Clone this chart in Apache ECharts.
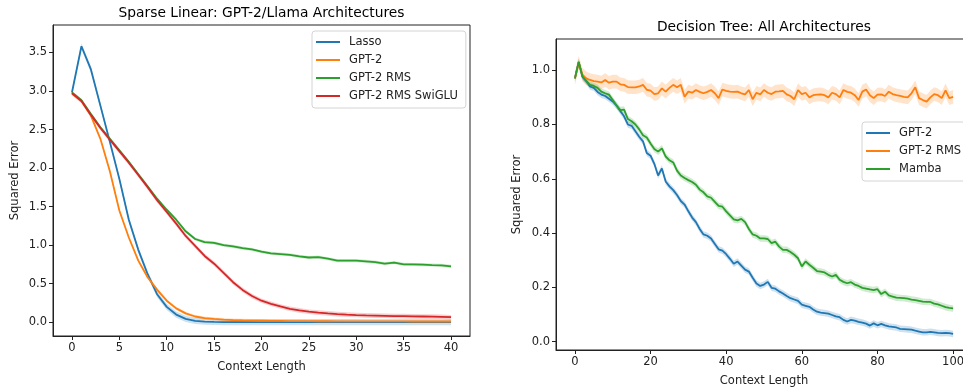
<!DOCTYPE html>
<html>
<head>
<meta charset="utf-8">
<script src="https://cdn.jsdelivr.net/npm/echarts@6/dist/echarts.min.js"></script>
<style>
  html, body { margin: 0; padding: 0; background: #fff; overflow: hidden; }
  #chart { width: 980px; height: 387px; }
</style>
</head>
<body>
<div id="chart"></div>
<script>
// ---- left panel: sparse linear, context length 0..40 ----
const lassoErr = [2.98, 3.58, 3.28, 2.81, 2.34, 1.86, 1.33, 0.94, 0.62, 0.36, 0.2, 0.1, 0.045, 0.018, 0.008, 0.004, 0.003, 0.002, 0.001, 0.001,
  0.001, 0.001, 0.001, 0.001, 0.001, 0.001, 0.001, 0.001, 0.001, 0.001, 0.001, 0.001, 0.001, 0.001, 0.001, 0.001, 0.001, 0.001, 0.001, 0.001, 0.001];
const gpt2Err = [2.97, 2.87, 2.68, 2.38, 1.96, 1.45, 1.1, 0.8, 0.58, 0.42, 0.28, 0.18, 0.115, 0.075, 0.055, 0.043, 0.035, 0.029, 0.025, 0.022,
  0.02, 0.018, 0.017, 0.016, 0.015, 0.014, 0.013, 0.013, 0.012, 0.012, 0.012, 0.011, 0.011, 0.011, 0.011, 0.011, 0.01, 0.01, 0.01, 0.01, 0.01];
const rmsErr = [2.98, 2.88, 2.7, 2.53, 2.38, 2.23, 2.08, 1.92, 1.76, 1.6, 1.46, 1.33, 1.18, 1.08, 1.04, 1.03, 1.0, 0.985, 0.962, 0.945,
  0.915, 0.895, 0.885, 0.875, 0.855, 0.84, 0.845, 0.825, 0.8, 0.8, 0.8, 0.79, 0.78, 0.76, 0.775, 0.752, 0.75, 0.748, 0.742, 0.738, 0.725];
const swigluErr = [2.97, 2.87, 2.69, 2.52, 2.37, 2.22, 2.07, 1.91, 1.75, 1.58, 1.43, 1.28, 1.12, 0.99, 0.86, 0.76, 0.64, 0.52, 0.42, 0.34,
  0.28, 0.24, 0.205, 0.175, 0.155, 0.137, 0.125, 0.115, 0.106, 0.099, 0.094, 0.09, 0.087, 0.084, 0.081, 0.079, 0.077, 0.075, 0.073, 0.071, 0.066];
const leftNames = ['Lasso', 'GPT-2', 'GPT-2 RMS', 'GPT-2 RMS SwiGLU'];
const leftXTicks = [0, 5, 10, 15, 20, 25, 30, 35, 40];
const leftYTicks = [0, 0.5, 1, 1.5, 2, 2.5, 3, 3.5];

// ---- right panel: decision tree, context length 0..100 ----
const dtGpt2 = [0.97, 1.03, 0.975, 0.96, 0.94, 0.935, 0.92, 0.91, 0.905, 0.895, 0.885, 0.87, 0.85, 0.83, 0.8, 0.795, 0.775, 0.755, 0.738, 0.695,
  0.685, 0.655, 0.612, 0.638, 0.59, 0.572, 0.558, 0.54, 0.518, 0.505, 0.48, 0.457, 0.44, 0.415, 0.395, 0.39, 0.38, 0.36, 0.34, 0.335,
  0.322, 0.305, 0.287, 0.295, 0.28, 0.265, 0.258, 0.235, 0.214, 0.205, 0.21, 0.22, 0.198, 0.195, 0.185, 0.177, 0.168, 0.16, 0.155, 0.15,
  0.136, 0.132, 0.128, 0.118, 0.11, 0.107, 0.105, 0.103, 0.098, 0.093, 0.09, 0.08, 0.074, 0.08, 0.077, 0.073, 0.07, 0.066, 0.059, 0.067,
  0.06, 0.065, 0.06, 0.056, 0.054, 0.052, 0.047, 0.046, 0.045, 0.044, 0.04, 0.037, 0.034, 0.034, 0.036, 0.034, 0.032, 0.031, 0.032, 0.031, 0.028];
const dtRms = [0.97, 1.027, 0.983, 0.97, 0.964, 0.96, 0.958, 0.955, 0.964, 0.954, 0.958, 0.958, 0.948, 0.946, 0.938, 0.937, 0.937, 0.94, 0.946, 0.928,
  0.925, 0.912, 0.915, 0.933, 0.921, 0.935, 0.946, 0.937, 0.946, 0.902, 0.921, 0.917, 0.927, 0.92, 0.915, 0.92, 0.927, 0.915, 0.897, 0.929,
  0.924, 0.921, 0.92, 0.921, 0.915, 0.911, 0.927, 0.893, 0.917, 0.911, 0.927, 0.917, 0.912, 0.921, 0.922, 0.924, 0.911, 0.905, 0.893, 0.927,
  0.912, 0.917, 0.9, 0.908, 0.91, 0.911, 0.908, 0.9, 0.917, 0.912, 0.9, 0.927, 0.92, 0.917, 0.908, 0.89, 0.921, 0.929, 0.908, 0.897,
  0.91, 0.911, 0.905, 0.921, 0.912, 0.908, 0.905, 0.902, 0.9, 0.915, 0.937, 0.897, 0.89, 0.884, 0.9, 0.912, 0.908, 0.897, 0.926, 0.897, 0.902];
const dtMamba = [0.97, 1.03, 0.978, 0.96, 0.946, 0.942, 0.935, 0.921, 0.915, 0.91, 0.89, 0.87, 0.853, 0.855, 0.82, 0.812, 0.8, 0.782, 0.76, 0.752,
  0.73, 0.71, 0.7, 0.712, 0.682, 0.668, 0.66, 0.63, 0.612, 0.603, 0.595, 0.588, 0.578, 0.56, 0.55, 0.535, 0.53, 0.515, 0.5, 0.497,
  0.48, 0.465, 0.45, 0.447, 0.452, 0.44, 0.415, 0.395, 0.39, 0.38, 0.38, 0.378, 0.363, 0.368, 0.35, 0.338, 0.338, 0.33, 0.32, 0.307,
  0.277, 0.295, 0.283, 0.272, 0.26, 0.258, 0.255, 0.246, 0.24, 0.246, 0.228, 0.22, 0.215, 0.219, 0.21, 0.205, 0.198, 0.195, 0.192, 0.19,
  0.193, 0.175, 0.184, 0.17, 0.166, 0.162, 0.161, 0.16, 0.158, 0.155, 0.153, 0.15, 0.147, 0.146, 0.146, 0.14, 0.137, 0.132, 0.127, 0.124, 0.122];
const rightNames = ['GPT-2', 'GPT-2 RMS', 'Mamba'];
const rightXTicks = [0, 20, 40, 60, 80, 100];
const rightYTicks = [0, 0.2, 0.4, 0.6, 0.8, 1.0];

// half widths of the shaded error bands
const bandHalf = { lasso: 0.04, gpt2: 0.02, rms: 0.02, swiglu: 0.03, dtGpt2: 0.012, dtRms: 0.025, dtMamba: 0.012 };

const FONT = 'DejaVu Sans';
const INK = '#222';
const COL = { blue: '#1f77b4', orange: '#ff7f0e', green: '#2ca02c', red: '#d62728' };

const pairs = (vals) => vals.map((v, i) => [i, v]);

// shaded band: one polygon through upper edge then lower edge, drawn via the axis scales
function band(vals, half, color, idx) {
  const rows = vals.map((v, i) => [i, v - half, v + half]);
  return {
    type: 'custom', xAxisIndex: idx, yAxisIndex: idx, silent: true, clip: true, z: 1,
    data: rows,
    renderItem(params, api) {
      if (params.dataIndex !== 0) return null;
      const upper = rows.map((r) => api.coord([r[0], r[2]]));
      const lower = rows.map((r) => api.coord([r[0], r[1]])).reverse();
      return { type: 'polygon', shape: { points: upper.concat(lower) },
        style: { fill: color, opacity: 0.22 } };
    },
  };
}

function line(name, vals, color, idx) {
  return { name, type: 'line', xAxisIndex: idx, yAxisIndex: idx, data: pairs(vals), symbol: 'none',
    lineStyle: { color, width: 1.8 }, itemStyle: { color }, z: 3 };
}

const tickText = { fontFamily: FONT, fontSize: 11.5, color: INK };

function xAxis(idx, min, max, ticks) {
  return { type: 'value', gridIndex: idx, min, max,
    name: 'Context Length', nameLocation: 'middle', nameGap: 25, nameTextStyle: tickText,
    axisLine: { show: true, onZero: false, lineStyle: { color: INK, width: 1 } },
    axisTick: { show: true, length: 4, customValues: ticks, lineStyle: { color: INK } },
    axisLabel: { customValues: ticks, margin: 6, ...tickText },
    splitLine: { show: false } };
}

function yAxis(idx, min, max, ticks, gap) {
  return { type: 'value', gridIndex: idx, min, max,
    name: 'Squared Error', nameLocation: 'middle', nameGap: gap, nameTextStyle: tickText,
    axisLine: { show: true, onZero: false, lineStyle: { color: INK, width: 1 } },
    axisTick: { show: true, length: 4, customValues: ticks, lineStyle: { color: INK } },
    axisLabel: { customValues: ticks, margin: 6, formatter: (v) => v.toFixed(1), ...tickText },
    splitLine: { show: false } };
}

function legend(names, colors, left, top) {
  return { data: names.map((name, i) => ({ name, itemStyle: { color: colors[i] } })),
    left, top, orient: 'vertical', icon: 'rect', itemWidth: 24, itemHeight: 2,
    itemGap: 6, padding: [5, 8, 6, 4], borderColor: '#d4d4d4', borderWidth: 1, borderRadius: 3,
    backgroundColor: 'rgba(255,255,255,0.8)', selectedMode: false,
    textStyle: { ...tickText, padding: [0, 0, 0, 4] } };
}

const chart = echarts.init(document.getElementById('chart'));
chart.setOption({
  animation: false,
  backgroundColor: '#fff',
  graphic: [
    { type: 'text', x: 261.5, y: 13, style: { text: 'Sparse Linear: GPT-2/Llama Architectures', fontFamily: FONT, fontSize: 13.8, fill: '#000', align: 'center', verticalAlign: 'middle' } },
    { type: 'text', x: 764, y: 27, style: { text: 'Decision Tree: All Architectures', fontFamily: FONT, fontSize: 13.8, fill: '#000', align: 'center', verticalAlign: 'middle' } },
  ],
  grid: [
    { left: 53, top: 25, width: 417, height: 311, show: true, borderColor: INK, borderWidth: 1, outerBoundsMode: 'none' },
    { left: 556, top: 39, width: 416, height: 311, show: true, borderColor: INK, borderWidth: 1, outerBoundsMode: 'none' },
  ],
  xAxis: [xAxis(0, -2, 42, leftXTicks), xAxis(1, -5, 105, rightXTicks)],
  yAxis: [yAxis(0, -0.178, 3.856, leftYTicks, 32), yAxis(1, -0.031, 1.115, rightYTicks, 33)],
  legend: [
    legend(leftNames, [COL.blue, COL.orange, COL.green, COL.red], 312, 31),
    legend(rightNames, [COL.blue, COL.orange, COL.green], 862, 122),
  ],
  series: [
    band(lassoErr, bandHalf.lasso, COL.blue, 0),
    band(gpt2Err, bandHalf.gpt2, COL.orange, 0),
    band(rmsErr, bandHalf.rms, COL.green, 0),
    band(swigluErr, bandHalf.swiglu, COL.red, 0),
    line('Lasso', lassoErr, COL.blue, 0),
    line('GPT-2', gpt2Err, COL.orange, 0),
    line('GPT-2 RMS', rmsErr, COL.green, 0),
    line('GPT-2 RMS SwiGLU', swigluErr, COL.red, 0),
    band(dtGpt2, bandHalf.dtGpt2, COL.blue, 1),
    band(dtRms, bandHalf.dtRms, COL.orange, 1),
    band(dtMamba, bandHalf.dtMamba, COL.green, 1),
    line('GPT-2', dtGpt2, COL.blue, 1),
    line('GPT-2 RMS', dtRms, COL.orange, 1),
    line('Mamba', dtMamba, COL.green, 1),
  ],
});
</script>
</body>
</html>
